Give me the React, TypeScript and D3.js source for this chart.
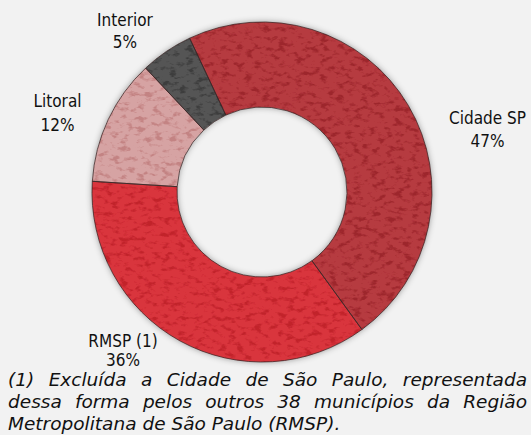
import React, { useRef, useEffect } from "react";
import * as d3 from "d3";

const LABELS = ["Cidade SP", "RMSP (1)", "Litoral", "Interior"];
const VALUES = [47, 36, 12, 5];
const COLORS = ["#b63b40", "#d9363d", "#d6a3a3", "#555555"];
const GRAIN = ["#8a161d", "#b0151f", "#b56a6a", "#2a2a2a"];
const FOOTNOTE = [
  "(1) Excluída a Cidade de São Paulo, representada",
  "dessa forma pelos outros 38 municípios da Região",
  "Metropolitana de São Paulo (RMSP).",
];

const W = 531, H = 435;

export default function App() {
  const svgRef = useRef<SVGSVGElement>(null);

  useEffect(() => {
    const svg = d3.select(svgRef.current);
    svg.selectAll("*").remove();

    const cx = 262, cy = 192, rOuter = 170, rInner = 85;

    const defs = svg.append("defs");
    const sh = defs.append("filter").attr("id", "shadow")
      .attr("x", "-20%").attr("y", "-20%").attr("width", "140%").attr("height", "140%");
    sh.append("feDropShadow").attr("dx", 0).attr("dy", 0)
      .attr("stdDeviation", 3).attr("flood-color", "#000").attr("flood-opacity", 0.4);

    // grain texture: dark patches where noise is high
    const tx = defs.append("filter").attr("id", "grain");
    tx.append("feTurbulence").attr("type", "fractalNoise")
      .attr("baseFrequency", "0.12 0.2").attr("numOctaves", 3).attr("seed", 7).attr("result", "n");
    tx.append("feColorMatrix").attr("in", "n").attr("type", "matrix")
      .attr("values", "0 0 0 0 0  0 0 0 0 0  0 0 0 0 0  5 0 0 0 -2.6")
      .attr("result", "m");
    tx.append("feComposite").attr("in", "SourceGraphic").attr("in2", "m").attr("operator", "in");

    svg.append("rect").attr("width", W).attr("height", H).attr("fill", "#f2f2f2");

    const pie = d3.pie<number>().sort(null)
      .startAngle(-0.07 * 2 * Math.PI)
      .endAngle(0.93 * 2 * Math.PI);
    const arcs = pie(VALUES);
    const arc = d3.arc<d3.PieArcDatum<number>>().innerRadius(rInner).outerRadius(rOuter);

    const g = svg.append("g").attr("transform", `translate(${cx},${cy})`);
    g.append("g").attr("filter", "url(#shadow)")
      .selectAll("path").data(arcs).join("path")
      .attr("d", arc)
      .attr("fill", (d, i) => COLORS[i]);
    g.append("g")
      .selectAll("path").data(arcs).join("path")
      .attr("d", arc)
      .attr("fill", (d, i) => GRAIN[i])
      .attr("filter", "url(#grain)")
      .attr("opacity", 0.55);
    g.append("g")
      .selectAll("path").data(arcs).join("path")
      .attr("d", arc)
      .attr("fill", "none")
      .attr("stroke", "#3a2626")
      .attr("stroke-opacity", 0.75)
      .attr("stroke-width", 1);

    // labels
    const labelPos: [number, number, number][] = [
      [487.5, 124, 23], [123, 347, 19], [57.5, 107, 24], [125, 26, 22],
    ];
    const lab = svg.append("g")
      .style("font-family", "'DejaVu Sans Condensed', 'DejaVu Sans', sans-serif")
      .style("font-size", "17px")
      .attr("fill", "#111")
      .attr("text-anchor", "middle");
    LABELS.forEach((l, i) => {
      const [x, y, dy] = labelPos[i];
      const t = lab.append("text").attr("x", x).attr("y", y);
      t.append("tspan").attr("x", x).text(l);
      t.append("tspan").attr("x", x).attr("dy", dy).text(`${VALUES[i]}%`);
    });

    // footnote, justified
    const fn = svg.append("g")
      .style("font-family", "'DejaVu Sans', sans-serif")
      .style("font-size", "18.5px")
      .style("font-style", "italic")
      .attr("fill", "#111");
    FOOTNOTE.forEach((line, i) => {
      const t = fn.append("text").attr("x", 8).attr("y", 386 + i * 22).text(line);
      if (i < FOOTNOTE.length - 1) {
        const node = t.node() as SVGTextElement;
        const w = node.getComputedTextLength();
        const gaps = line.split(" ").length - 1;
        t.attr("word-spacing", Math.max(0, (527 - 8 - w) / gaps));
      }
    });
  }, []);

  return (
    <svg
      ref={svgRef}
      width={W}
      height={H}
      style={{ position: "absolute", left: 0, top: 0, display: "block" }}
    />
  );
}
